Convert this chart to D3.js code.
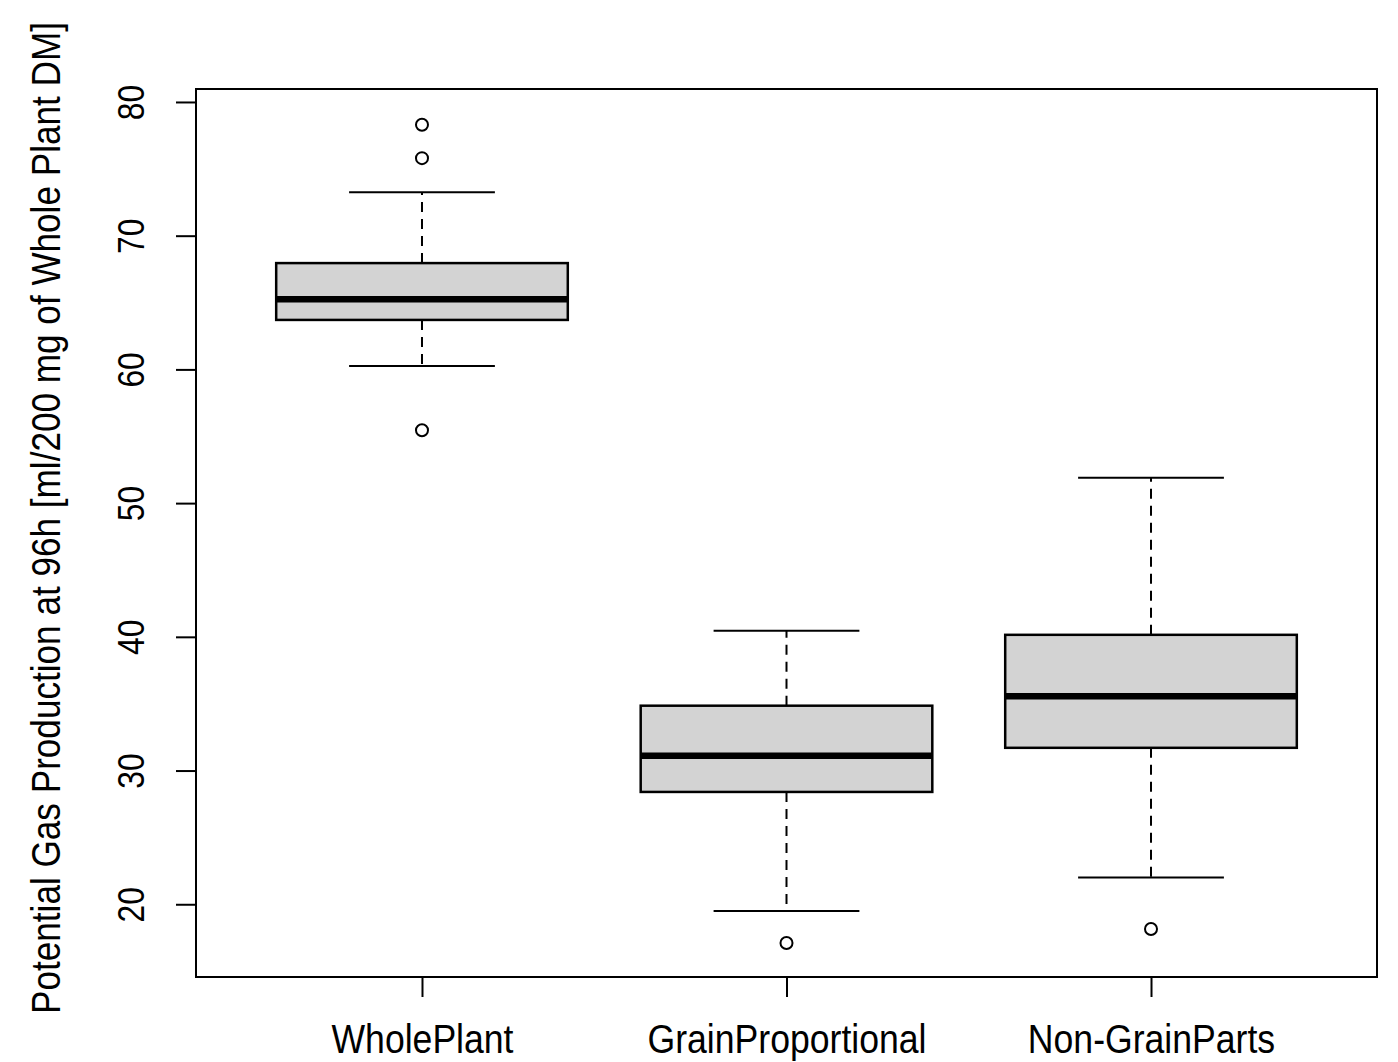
<!DOCTYPE html>
<html>
<head>
<meta charset="utf-8">
<script src="https://cdn.jsdelivr.net/npm/d3@7"></script>
<style>
  body { margin: 0; background: #fff; }
  text { font-family: "Liberation Sans", Arial, sans-serif; fill: #000; }
</style>
</head>
<body>
<div id="chart"></div>
<script>
// box statistics
const categories = ['WholePlant', 'GrainProportional', 'Non-GrainParts']
const lowerWhisker = [60.25, 19.5, 22.0]
const q1 = [63.7, 28.4, 31.7]
const median = [65.25, 31.1, 35.55]
const q3 = [67.95, 34.85, 40.15]
const upperWhisker = [73.25, 40.45, 51.9]
const outliers = [[78.3, 75.8, 55.45], [17.1], [18.15]]
const yTicks = [20, 30, 40, 50, 60, 70, 80]
const yTitle = 'Potential Gas Production at 96h [ml/200 mg of Whole Plant DM]'

const width = 1398, height = 1062
const plot = { left: 196, right: 1377, top: 89, bottom: 977 }

const svg = d3.select('#chart').append('svg')
  .attr('width', width)
  .attr('height', height)

// R style scales: x from 0.38 to 3.62, y with 4% padding
const x = d3.scaleLinear().domain([0.38, 3.62]).range([plot.left, plot.right])
const y = d3.scaleLinear().domain([14.56, 80.97]).range([plot.bottom, plot.top])

const boxHalf = 0.4, capHalf = 0.2

const g = svg.append('g')
const boxes = g.selectAll('g.box')
  .data(categories.map((c, i) => ({ c, i, pos: i + 1 })))
  .enter().append('g').attr('class', 'box')

// whiskers (dashed)
boxes.append('line')
  .attr('x1', d => x(d.pos)).attr('x2', d => x(d.pos))
  .attr('y1', d => y(q3[d.i])).attr('y2', d => y(upperWhisker[d.i]))
  .attr('stroke', '#000').attr('stroke-width', 2).attr('stroke-dasharray', '10,7')
boxes.append('line')
  .attr('x1', d => x(d.pos)).attr('x2', d => x(d.pos))
  .attr('y1', d => y(q1[d.i])).attr('y2', d => y(lowerWhisker[d.i]))
  .attr('stroke', '#000').attr('stroke-width', 2).attr('stroke-dasharray', '10,7')

// caps
boxes.append('line')
  .attr('x1', d => x(d.pos - capHalf)).attr('x2', d => x(d.pos + capHalf))
  .attr('y1', d => y(upperWhisker[d.i])).attr('y2', d => y(upperWhisker[d.i]))
  .attr('stroke', '#000').attr('stroke-width', 2)
boxes.append('line')
  .attr('x1', d => x(d.pos - capHalf)).attr('x2', d => x(d.pos + capHalf))
  .attr('y1', d => y(lowerWhisker[d.i])).attr('y2', d => y(lowerWhisker[d.i]))
  .attr('stroke', '#000').attr('stroke-width', 2)

// box
boxes.append('rect')
  .attr('x', d => x(d.pos - boxHalf))
  .attr('width', d => x(d.pos + boxHalf) - x(d.pos - boxHalf))
  .attr('y', d => y(q3[d.i]))
  .attr('height', d => y(q1[d.i]) - y(q3[d.i]))
  .attr('fill', '#d3d3d3').attr('stroke', '#000').attr('stroke-width', 2.5)

// median
boxes.append('line')
  .attr('x1', d => x(d.pos - boxHalf)).attr('x2', d => x(d.pos + boxHalf))
  .attr('y1', d => y(median[d.i])).attr('y2', d => y(median[d.i]))
  .attr('stroke', '#000').attr('stroke-width', 6.5)

// outliers
boxes.selectAll('circle')
  .data(d => outliers[d.i].map(v => ({ v, pos: d.pos })))
  .enter().append('circle')
  .attr('cx', d => x(d.pos)).attr('cy', d => y(d.v))
  .attr('r', 6).attr('fill', 'none').attr('stroke', '#000').attr('stroke-width', 2)

// frame
svg.append('rect')
  .attr('x', plot.left).attr('y', plot.top)
  .attr('width', plot.right - plot.left).attr('height', plot.bottom - plot.top)
  .attr('fill', 'none').attr('stroke', '#000').attr('stroke-width', 2)

// y axis
const yAxis = d3.axisLeft(y).tickValues(yTicks).tickSize(20).tickFormat(d3.format('d'))
const yg = svg.append('g')
  .attr('transform', 'translate(' + plot.left + ',0)')
  .call(yAxis)
yg.select('.domain').remove()
yg.selectAll('.tick line').attr('stroke', '#000').attr('stroke-width', 2)
yg.selectAll('.tick text')
  .attr('font-size', 37)
  .attr('font-family', '"Liberation Sans", Arial, sans-serif')
  .attr('fill', '#000')
  .attr('x', 0)
  .attr('y', 0)
  .attr('dy', 0)
  .attr('transform', 'translate(-52,0) rotate(-90) scale(0.86,1)')
  .attr('text-anchor', 'middle')

// x axis
const xAxis = d3.axisBottom(x).tickValues([1, 2, 3]).tickSize(20)
  .tickFormat((d, i) => categories[i])
const xg = svg.append('g')
  .attr('transform', 'translate(0,' + plot.bottom + ')')
  .call(xAxis)
xg.select('.domain').remove()
xg.selectAll('.tick line').attr('stroke', '#000').attr('stroke-width', 2)
xg.selectAll('.tick text')
  .attr('font-size', 40)
  .attr('font-family', '"Liberation Sans", Arial, sans-serif')
  .attr('fill', '#000')
  .attr('y', 0)
  .attr('dy', 0)
  .attr('transform', 'translate(0,76) scale(0.89,1)')

// y title
svg.append('text')
  .attr('transform', 'translate(60,' + ((plot.top + plot.bottom) / 2 - 15) + ') rotate(-90) scale(0.857,1)')
  .attr('text-anchor', 'middle')
  .attr('font-size', 41)
  .text(yTitle)
</script>
</body>
</html>
